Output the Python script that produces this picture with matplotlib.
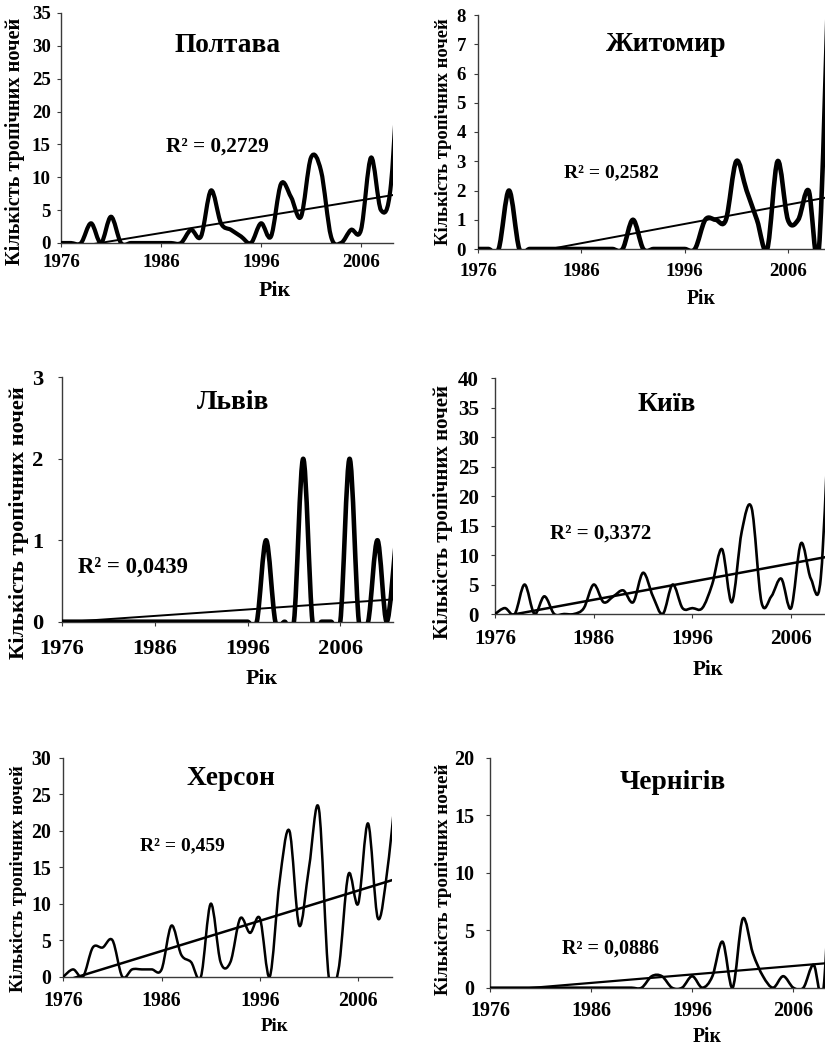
import numpy as np
import matplotlib
matplotlib.use("Agg")
import matplotlib.pyplot as plt
from matplotlib.path import Path
from matplotlib.patches import PathPatch

plt.rcParams['font.family'] = ['Liberation Serif', 'DejaVu Serif']
plt.rcParams['font.weight'] = 'bold'

# ---------------- data ----------------
years = list(range(1976, 2011))
years_lviv = list(range(1976, 2013))

poltava = [0, 0, 0, 3, 0, 4, 0, 0, 0, 0,
           0, 0, 0, 2, 1, 8, 3, 2, 1, 0,
           3, 1, 9, 7, 4, 13, 11, 1, 0, 2,
           2, 13, 5, 9, 35]
zhytomyr = [0, 0, 0, 2, 0, 0, 0, 0, 0, 0,
            0, 0, 0, 0, 0, 1, 0, 0, 0, 0,
            0, 0, 1, 1, 1, 3, 2, 1, 0, 3,
            1, 1, 2, 0, 10]
lviv = [0, 0, 0, 0, 0, 0, 0, 0, 0, 0,
        0, 0, 0, 0, 0, 0, 0, 0, 0, 0,
        0, 0, 1, 0, 0, 0, 2, 0, 0, 0,
        0, 2, 0, 0, 1, 0, 1]
kyiv = [0, 1, 0, 5, 0, 3, 0, 0, 0, 1,
        5, 2, 3, 4, 2, 7, 3, 0, 5, 1,
        1, 1, 5, 11, 2, 14, 18, 2, 3, 6,
        1, 12, 6, 6, 40]
kherson = [0, 1, 0, 4, 4, 5, 0, 1, 1, 1,
           1, 7, 3, 2, 0, 10, 2, 2, 8, 6,
           8, 0, 13, 20, 7, 15, 23, 0, 1, 14,
           10, 21, 8, 15, 28]
chernihiv = [0, 0, 0, 0, 0, 0, 0, 0, 0, 0,
             0, 0, 0, 0, 0, 0, 1, 1, 0, 0,
             1, 0, 1, 4, 0, 6, 3, 1, 0, 1,
             0, 0, 2, 0, 18]

titles = ["Полтава", "Житомир", "Львів", "Київ", "Херсон", "Чернігів"]
r2_labels = ["R² = 0,2729", "R² = 0,2582", "R² = 0,0439",
             "R² = 0,3372", "R² = 0,459", "R² = 0,0886"]
# linear trend (value at 1976, slope per year)
trend_at_1976 = [-0.97, -0.46, -0.008, -0.66, -0.62, -0.32]
trend_slope = [0.249, 0.0658, 0.0079, 0.308, 0.414, 0.0736]
y_max = [35, 8, 3, 40, 30, 20]
y_step = [5, 1, 1, 5, 5, 5]
x_ticks = [1976, 1986, 1996, 2006]
ylabel = "Кількість тропічних ночей"
xlabel = "Рік"

series = [(years, poltava), (years, zhytomyr), (years_lviv, lviv),
          (years, kyiv), (years, kherson), (years, chernihiv)]

# ---------------- layout (pixels) ----------------
W, H = 825, 1046
fig = plt.figure(figsize=(W / 100, H / 100), dpi=100)

# left, bottom(y=0), top, px_per_year, x_right_limit
geom = [
    (61.0, 243.0, 13.0, 10.0, 2009.2),
    (478.0, 249.0, 15.0, 10.33, 2010.0),
    (62.0, 621.7, 377.3, 9.277, 2011.65),
    (495.0, 614.0, 378.3, 9.87, 2010.0),
    (63.3, 976.7, 757.7, 9.83, 2009.4),
    (490.0, 987.7, 757.7, 10.11, 2010.0),
]
tick_fs = [13.6, 13.6, 16.2, 15.1, 14.3, 14.5]
ytick_gap = [11, 13, 20, 17, 13, 17]
xtick_gap = [14, 16, 20, 17.7, 16.6, 15.6]
line_w = [3.0, 3.3, 3.3, 1.9, 1.8, 1.9]
trend_w = [1.4, 1.4, 1.4, 1.8, 1.8, 1.6]

title_pos = [(228, 51.7), (666, 51), (233, 409.3), (667, 410.7), (231, 785), (673, 789.3)]
title_w = [106, 121, 72, 58, 89, 106]
r2_pos = [(217, 151.7), (611, 177.7), (133, 572.7), (601, 538.3), (182, 850.7), (610, 954)]
r2_w = [104, 95, 111, 102, 85, 98]
xl_pos = [(275, 296), (701, 304), (262, 684.3), (708, 675), (275, 1031), (707, 1042.3)]
xl_w = [32, 29, 32, 31, 28, 29]
yl_pos = [(15, 141), (443, 132), (19, 523), (443, 512), (19, 879), (443, 879)]
yl_len = [248, 227, 273, 255, 228, 232]


def smooth_path(x, y):
    """Excel-like smoothed line: Catmull-Rom converted to cubic Bezier."""
    pts = np.column_stack([np.asarray(x, float), np.asarray(y, float)])
    n = len(pts)
    verts = [pts[0]]
    codes = [Path.MOVETO]
    for i in range(n - 1):
        p0 = pts[i - 1] if i > 0 else pts[i]
        p1 = pts[i]
        p2 = pts[i + 1]
        p3 = pts[i + 2] if i + 2 < n else pts[i + 1]
        c1 = p1 + (p2 - p0) / 6.0
        c2 = p2 - (p3 - p1) / 6.0
        verts += [c1, c2, p2]
        codes += [Path.CURVE4] * 3
    return Path(np.array(verts), codes)


px2pt = 72 / 100.0
texts_fit = []

for k in range(6):
    left, bot, top, ppy, xr = geom[k]
    width = (xr - 1976) * ppy
    ax = fig.add_axes([left / W, 1 - bot / H, width / W, (bot - top) / H])
    ax.set_xlim(1976, xr)
    ax.set_ylim(0, y_max[k])
    for s in ['top', 'right']:
        ax.spines[s].set_visible(False)
    for s in ['left', 'bottom']:
        ax.spines[s].set_color('#3a3a3a')
        ax.spines[s].set_linewidth(1.0)
    ax.set_xticks(x_ticks)
    ax.set_xticklabels([str(t) for t in x_ticks])
    yt = np.arange(0, y_max[k] + 0.01, y_step[k])
    ax.set_yticks(yt)
    ax.set_yticklabels([str(int(v)) for v in yt])
    ax.tick_params(axis='both', direction='out', length=4 * px2pt, width=0.8,
                   color='#3a3a3a', labelsize=tick_fs[k], labelcolor='black')
    ax.tick_params(axis='x', pad=(xtick_gap[k] - 6.5) * px2pt)
    ax.tick_params(axis='y', pad=(ytick_gap[k] - 5) * px2pt)
    for lab in ax.get_xticklabels() + ax.get_yticklabels():
        lab.set_fontweight('bold')
    ax.patch.set_alpha(0)

    xs, ys = series[k]
    patch = PathPatch(smooth_path(xs, ys), facecolor='none', edgecolor='black',
                      linewidth=line_w[k], capstyle='round', joinstyle='round', zorder=3)
    ax.add_patch(patch)

    tx = np.array([xs[0], xs[-1]], float)
    ty = trend_at_1976[k] + trend_slope[k] * (tx - 1976)
    ax.plot(tx, ty, color='black', linewidth=trend_w[k], zorder=4, solid_capstyle='butt')

    t1 = fig.text(title_pos[k][0] / W, 1 - title_pos[k][1] / H, titles[k],
                  ha='center', va='baseline', fontsize=18, fontweight='bold')
    texts_fit.append((t1, title_w[k], 'w'))
    t2 = fig.text(r2_pos[k][0] / W, 1 - r2_pos[k][1] / H, r2_labels[k],
                  ha='center', va='baseline', fontsize=14, fontweight='bold')
    texts_fit.append((t2, r2_w[k], 'w'))
    t3 = fig.text(xl_pos[k][0] / W, 1 - xl_pos[k][1] / H, xlabel,
                  ha='center', va='baseline', fontsize=14, fontweight='bold')
    texts_fit.append((t3, xl_w[k], 'w'))
    t4 = fig.text(yl_pos[k][0] / W, 1 - yl_pos[k][1] / H, ylabel,
                  ha='center', va='center', rotation=90, fontsize=14, fontweight='bold')
    texts_fit.append((t4, yl_len[k], 'h'))

renderer = fig.canvas.get_renderer()
for t, target, mode in texts_fit:
    bb = t.get_window_extent(renderer)
    cur = bb.width if mode == 'w' else bb.height
    t.set_fontsize(t.get_fontsize() * target / cur)

fig.savefig("out.png", dpi=100, facecolor='white')
